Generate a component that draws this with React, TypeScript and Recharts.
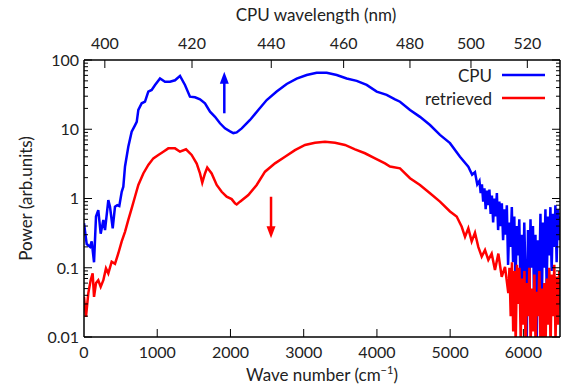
import { LineChart, Line, XAxis, YAxis, Label, ReferenceLine, ReferenceDot } from 'recharts';

// CPU spectrum (wave number in cm^-1, power in arb. units)
const cpuWave = [
  0, 37, 82, 105, 137, 164, 195, 228, 264, 287, 332, 355, 392, 423, 455, 482, 515, 537, 560, 605,
  651, 696, 720, 742, 788, 833, 878, 924, 970, 1038, 1106, 1174, 1243, 1311, 1379, 1447, 1516, 1584, 1652, 1721,
  1789, 1857, 1925, 1994, 2039, 2085, 2154, 2267, 2380, 2495, 2631, 2768, 2904, 3041, 3177, 3314, 3451, 3587, 3724, 3860,
  3997, 4133, 4247, 4315, 4452, 4588, 4725, 4861, 4998, 5134, 5248, 5300, 5339, 5370,
  5400, 5417, 5434, 5451, 5468, 5485, 5502, 5519, 5536, 5553, 5570, 5587, 5604, 5621, 5638, 5655, 5672, 5689, 5706, 5723,
  5740, 5757, 5774, 5791, 5808, 5825, 5842, 5859, 5876, 5893, 5910, 5927, 5944, 5961, 5978, 5995, 6012, 6029, 6046, 6063,
  6080, 6097, 6114, 6131, 6148, 6165, 6182, 6199, 6216, 6233, 6250, 6267, 6284, 6301, 6318, 6335, 6352, 6369, 6386, 6403,
  6420, 6437, 6454, 6471, 6488, 6500,
];
const cpuPower = [
  0.44, 0.22, 0.2, 0.24, 0.12, 0.55, 0.68, 0.31, 0.49, 0.35, 0.95, 0.76, 0.37, 0.76, 0.8, 0.78, 1.25, 1.48, 2.9, 5.6,
  9.2, 11.4, 12.8, 19, 23.7, 25, 35, 37, 43.6, 54, 48.6, 48.6, 51, 59, 43.6, 29.5, 28.9, 27, 23.7, 17.9,
  15.1, 12.2, 10.3, 9.3, 8.8, 9.0, 10.3, 13.6, 19, 26.4, 35, 45, 54, 60.7, 65.6, 65.6, 60.7, 54, 50, 43.6,
  35, 31.3, 27, 25, 19, 15.1, 11.5, 8.3, 6.3, 4.0, 2.87, 2.2, 2.4, 1.6,
  1.8, 1.2, 1.6, 0.9, 1.4, 0.7, 1.3, 0.8, 1.35, 0.6, 1.1, 0.45, 1.0, 0.55, 1.2, 0.35, 0.9, 0.4, 0.85, 0.25,
  0.7, 0.3, 0.8, 0.11, 0.45, 0.2, 0.75, 0.12, 0.55, 0.06, 0.4, 0.15, 0.5, 0.05, 0.3, 0.03, 0.45, 0.08, 0.009, 0.35,
  0.04, 0.5, 0.1, 0.4, 0.02, 0.3, 0.008, 0.25, 0.06, 0.6, 0.02, 0.45, 0.1, 0.7, 0.05, 0.55, 0.15, 0.75, 0.09, 0.6,
  0.2, 0.8, 0.12, 0.7, 0.25, 0.55,
];

// retrieved spectrum
const retWave = [
  0, 27, 59, 91, 118, 137, 164, 195, 228, 264, 300, 332, 378, 423, 469, 515, 560, 605, 651, 696,
  742, 810, 878, 947, 1015, 1083, 1151, 1243, 1311, 1393, 1470, 1539, 1584, 1615, 1652, 1683, 1743, 1812, 1880, 1948,
  2016, 2062, 2085, 2130, 2244, 2358, 2472, 2608, 2745, 2881, 3018, 3154, 3291, 3428, 3564, 3701, 3837, 3974, 4110, 4179,
  4315, 4452, 4588, 4725, 4861, 4998, 5089, 5158, 5203, 5248, 5294, 5339, 5384, 5431, 5476, 5521, 5567, 5612, 5658, 5704,
  5749, 5794, 5810, 5827, 5844, 5861, 5878, 5895, 5912, 5929, 5946, 5963, 5980, 5997, 6014, 6031, 6048, 6065, 6082, 6099,
  6116, 6133, 6150, 6167, 6184, 6201, 6218, 6235, 6252, 6269, 6286, 6303, 6320, 6337, 6354, 6371, 6388, 6405, 6422, 6439,
  6456, 6473, 6490, 6500,
];
const retPower = [
  0.038, 0.0196, 0.043, 0.066, 0.083, 0.038, 0.06, 0.066, 0.053, 0.066, 0.098, 0.083, 0.122, 0.114, 0.162, 0.24, 0.33, 0.49, 0.72, 1.06,
  1.57, 2.3, 3.05, 3.8, 4.25, 4.74, 5.3, 5.3, 4.74, 5.13, 4.25, 3.2, 2.3, 1.69, 2.3, 2.8, 2.3, 1.57, 1.25, 1.06,
  0.98, 0.85, 0.82, 0.9, 1.12, 1.57, 2.44, 3.22, 4.0, 5.0, 5.93, 6.4, 6.6, 6.4, 5.93, 5.13, 4.5, 3.8, 3.22, 2.9,
  2.73, 1.96, 1.57, 1.19, 0.9, 0.65, 0.55, 0.39, 0.28, 0.37, 0.24, 0.32, 0.2, 0.145, 0.18, 0.13, 0.16, 0.093, 0.16, 0.074,
  0.103, 0.043, 0.1, 0.02, 0.12, 0.012, 0.09, 0.008, 0.11, 0.03, 0.1, 0.009, 0.07, 0.015, 0.09, 0.006, 0.06, 0.02, 0.1, 0.008,
  0.05, 0.012, 0.08, 0.007, 0.045, 0.02, 0.09, 0.006, 0.05, 0.01, 0.06, 0.008, 0.07, 0.015, 0.1, 0.007, 0.08, 0.02, 0.11, 0.009,
  0.075, 0.015, 0.09, 0.03,
];

const waveTicks = [0, 1000, 2000, 3000, 4000, 5000, 6000];
const wavelengthTicks = [400, 420, 440, 460, 480, 500, 520];
const powerDecades = [0.01, 0.1, 1, 10, 100];
const minorSteps = [2, 3, 4, 5, 6, 7, 8, 9];

// top axis: wavelength (nm) -> wave number offset from the 395.5 nm reference
const lambdaRef = 395.5;
const topTickPos = wavelengthTicks.map((l) => 1e7 / lambdaRef - 1e7 / l);

const powerTicks: number[] = [];
powerDecades.forEach((d, i) => {
  powerTicks.push(d);
  if (i < powerDecades.length - 1) minorSteps.forEach((m) => powerTicks.push(+(d * m).toPrecision(3)));
});

const cpuData = cpuWave.map((wn, i) => ({ wn, p: cpuPower[i] }));
const retData = retWave.map((wn, i) => ({ wn, p: retPower[i] }));

const FONT = 'Lato, "DejaVu Sans", sans-serif';
const isDecade = (v: number) => Math.abs(Math.log10(v) - Math.round(Math.log10(v))) < 1e-6;

const LeftTick = ({ x, y, payload }: any) => {
  const major = isDecade(payload.value);
  return (
    <g>
      <line x1={x} x2={x + (major ? 8 : 4)} y1={y} y2={y} stroke="#000" strokeWidth={1} />
      {major && (
        <text x={x - 5} y={y} dy="0.36em" textAnchor="end" fontSize={16} fill="#222" fontFamily={FONT}>
          {String(payload.value)}
        </text>
      )}
    </g>
  );
};

const RightTick = ({ x, y, payload }: any) => {
  const major = isDecade(payload.value);
  return <line x1={x} x2={x - (major ? 8 : 4)} y1={y} y2={y} stroke="#000" strokeWidth={1} />;
};

const BottomTick = ({ x, y, payload }: any) => (
  <g>
    {payload.value > 0 && <line x1={x} x2={x} y1={y} y2={y - 8} stroke="#000" strokeWidth={1} />}
    <text x={x} y={y + 21} textAnchor="middle" fontSize={16} fill="#222" fontFamily={FONT}>
      {payload.value}
    </text>
  </g>
);

const TopTick = ({ x, y, index }: any) => (
  <g>
    <line x1={x} x2={x} y1={y} y2={y + 8} stroke="#000" strokeWidth={1} />
    <text x={x} y={y - 11} textAnchor="middle" fontSize={16} fill="#222" fontFamily={FONT}>
      {wavelengthTicks[index]}
    </text>
  </g>
);

const arrowHead = (color: string, down: boolean) => (props: any) => {
  const { cx, cy } = props;
  const s = down ? -1 : 1;
  return <polygon points={`${cx},${cy} ${cx - 4.5},${cy + s * 12} ${cx + 4.5},${cy + s * 12}`} fill={color} />;
};

export default function App() {
  return (
    <div style={{ position: 'fixed', left: 0, top: 0, width: 561, height: 390, background: '#fff', fontFamily: FONT }}>
      <LineChart width={561} height={390} margin={{ top: 0, right: 0, bottom: 0, left: 0 }}>
        <XAxis
          xAxisId="bottom"
          dataKey="wn"
          type="number"
          domain={[0, 6500]}
          allowDataOverflow
          ticks={waveTicks}
          interval={0}
          height={53}
          tickSize={0}
          tickMargin={0}
          tick={<BottomTick />}
          axisLine={{ stroke: '#000', strokeWidth: 1.5 }}
        >
          <Label
            content={({ viewBox }: any) => (
              <text x={viewBox.x + viewBox.width / 2} y={381} textAnchor="middle" fontSize={17} fill="#222" fontFamily={FONT}>
                Wave number (cm
                <tspan dy={-7} fontSize={11}>−1</tspan>
                <tspan dy={7}>)</tspan>
              </text>
            )}
          />
        </XAxis>
        <XAxis
          xAxisId="top"
          orientation="top"
          dataKey="wn"
          type="number"
          domain={[0, 6500]}
          allowDataOverflow
          ticks={topTickPos}
          interval={0}
          height={60}
          tickSize={0}
          tickMargin={0}
          tick={<TopTick />}
          axisLine={{ stroke: '#000', strokeWidth: 1.5 }}
        >
          <Label
            content={() => (
              <text x={316} y={21} textAnchor="middle" fontSize={17} fill="#222" fontFamily={FONT}>
                CPU wavelength (nm)
              </text>
            )}
          />
        </XAxis>
        <YAxis
          yAxisId="left"
          scale="log"
          domain={[0.01, 100]}
          allowDataOverflow
          ticks={powerTicks}
          interval={0}
          width={84}
          tickSize={0}
          tickMargin={0}
          tick={<LeftTick />}
          axisLine={{ stroke: '#000', strokeWidth: 1.5 }}
        >
          <Label
            content={({ viewBox }: any) => {
              const cy = viewBox.y + viewBox.height / 2;
              return (
                <text x={32} y={cy} transform={`rotate(-90 32 ${cy})`} textAnchor="middle" fontSize={17} fill="#222" fontFamily={FONT}>
                  Power (arb.units)
                </text>
              );
            }}
          />
        </YAxis>
        <YAxis
          yAxisId="right"
          orientation="right"
          scale="log"
          domain={[0.01, 100]}
          allowDataOverflow
          ticks={powerTicks}
          interval={0}
          width={1}
          tickSize={0}
          tickMargin={0}
          tick={<RightTick />}
          axisLine={{ stroke: '#000', strokeWidth: 1.5 }}
        />
        {/* both x axes share the same 0..6500 cm^-1 scale */}
        <Line
          data={cpuData}
          xAxisId="bottom"
          yAxisId="left"
          dataKey="p"
          type="linear"
          stroke="#0000ff"
          strokeWidth={2.5}
          dot={false}
          isAnimationActive={false}
        />
        <Line
          data={retData}
          xAxisId="top"
          yAxisId="right"
          dataKey="p"
          type="linear"
          stroke="#ff0000"
          strokeWidth={2.5}
          dot={false}
          isAnimationActive={false}
        />
        <ReferenceLine
          xAxisId="bottom"
          yAxisId="left"
          segment={[{ x: 1916, y: 17 }, { x: 1916, y: 52 }]}
          stroke="#0000ff"
          strokeWidth={2.5}
        />
        <ReferenceDot xAxisId="bottom" yAxisId="left" x={1916} y={67.8} shape={arrowHead('#0000ff', false)} />
        <ReferenceLine
          xAxisId="bottom"
          yAxisId="left"
          segment={[{ x: 2554, y: 1.06 }, { x: 2554, y: 0.348 }]}
          stroke="#ff0000"
          strokeWidth={2.5}
        />
        <ReferenceDot xAxisId="bottom" yAxisId="left" x={2554} y={0.266} shape={arrowHead('#ff0000', true)} />
      </LineChart>
      <svg width={561} height={390} style={{ position: 'absolute', left: 0, top: 0, pointerEvents: 'none' }}>
        <text x={492} y={82} textAnchor="end" fontSize={17} fill="#222" fontFamily={FONT}>CPU</text>
        <line x1={502} x2={545} y1={75} y2={75} stroke="#0000ff" strokeWidth={2.5} />
        <text x={492} y={105} textAnchor="end" fontSize={17} fill="#222" fontFamily={FONT}>retrieved</text>
        <line x1={502} x2={545} y1={98} y2={98} stroke="#ff0000" strokeWidth={2.5} />
      </svg>
    </div>
  );
}
